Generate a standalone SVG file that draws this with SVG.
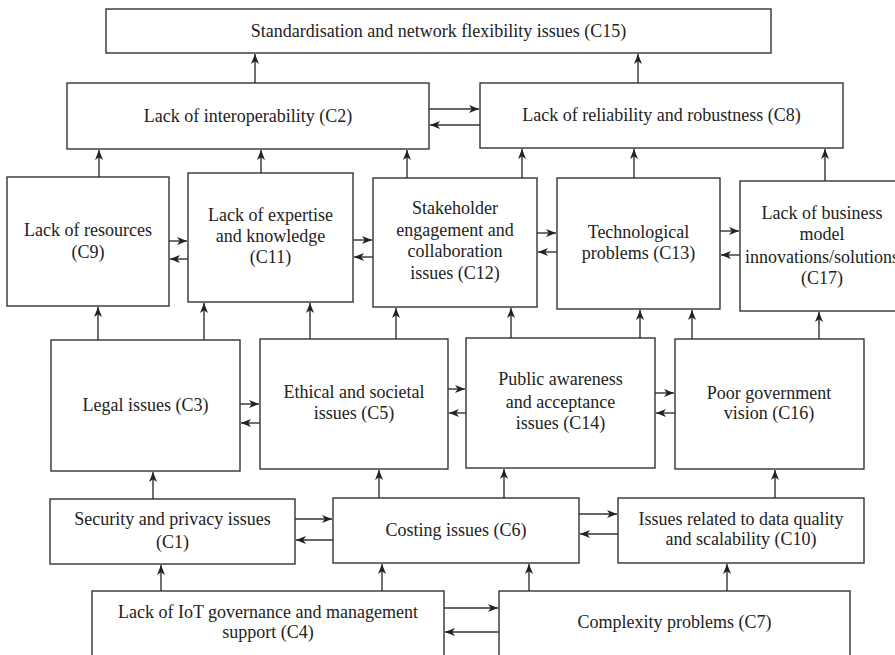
<svg xmlns="http://www.w3.org/2000/svg" width="895" height="655" viewBox="0 0 895 655">
<style>
.box{fill:#fff;stroke:#333;stroke-width:1.4}
.t{font-family:"Liberation Serif","Times New Roman",serif;font-size:18px;fill:#222;text-anchor:middle}
.c line{stroke:#333;stroke-width:1.4;marker-end:url(#ah)}
</style>
<defs>
<marker id="ah" markerUnits="userSpaceOnUse" markerWidth="11" markerHeight="9" refX="10" refY="4" orient="auto">
<path d="M0,0 L10,4 L0,8 L2.8,4 z" fill="#222"/>
</marker>
</defs>
<rect width="895" height="655" fill="#fff"/>
<g id="C15"><rect class="box" x="106" y="9" width="665" height="44"/><text class="t" x="438.5" y="37">Standardisation and network flexibility issues (C15)</text></g>
<g id="C2"><rect class="box" x="67" y="83" width="362" height="66"/><text class="t" x="248" y="122">Lack of interoperability (C2)</text></g>
<g id="C8"><rect class="box" x="480" y="83" width="363" height="65"/><text class="t" x="661.5" y="121">Lack of reliability and robustness (C8)</text></g>
<g id="C9"><rect class="box" x="7" y="177" width="162" height="129"/><text class="t" x="88" y="236">Lack of resources</text><text class="t" x="88" y="258">(C9)</text></g>
<g id="C11"><rect class="box" x="188" y="173" width="165" height="129"/><text class="t" x="270.5" y="221">Lack of expertise</text><text class="t" x="270.5" y="242">and knowledge</text><text class="t" x="270.5" y="263">(C11)</text></g>
<g id="C12"><rect class="box" x="373" y="178" width="164" height="129"/><text class="t" x="455" y="214">Stakeholder</text><text class="t" x="455" y="236">engagement and</text><text class="t" x="455" y="257">collaboration</text><text class="t" x="455" y="279">issues (C12)</text></g>
<g id="C13"><rect class="box" x="557" y="178" width="163" height="131"/><text class="t" x="638.5" y="238">Technological</text><text class="t" x="638.5" y="259">problems (C13)</text></g>
<g id="C17"><rect class="box" x="740" y="181" width="164" height="130"/><text class="t" x="822" y="219">Lack of business</text><text class="t" x="822" y="240">model</text><text class="t" x="822" y="263">innovations/solutions</text><text class="t" x="822" y="284">(C17)</text></g>
<g id="C3"><rect class="box" x="51" y="340" width="189" height="131"/><text class="t" x="145.5" y="411">Legal issues (C3)</text></g>
<g id="C5"><rect class="box" x="260" y="339" width="188" height="130"/><text class="t" x="354" y="398">Ethical and societal</text><text class="t" x="354" y="419">issues (C5)</text></g>
<g id="C14"><rect class="box" x="466" y="338" width="189" height="130"/><text class="t" x="560.5" y="385">Public awareness</text><text class="t" x="560.5" y="408">and acceptance</text><text class="t" x="560.5" y="429">issues (C14)</text></g>
<g id="C16"><rect class="box" x="675" y="339" width="189" height="130"/><text class="t" x="769" y="399">Poor government</text><text class="t" x="769" y="419">vision (C16)</text></g>
<g id="C1"><rect class="box" x="50" y="499" width="245" height="65"/><text class="t" x="172.5" y="525">Security and privacy issues</text><text class="t" x="172.5" y="548">(C1)</text></g>
<g id="C6"><rect class="box" x="333" y="498" width="246" height="65"/><text class="t" x="456" y="536">Costing issues (C6)</text></g>
<g id="C10"><rect class="box" x="618" y="498" width="246" height="65"/><text class="t" x="741" y="525">Issues related to data quality</text><text class="t" x="741" y="545">and scalability (C10)</text></g>
<g id="C4"><rect class="box" x="92" y="591" width="352" height="80"/><text class="t" x="268" y="618">Lack of IoT governance and management</text><text class="t" x="268" y="638">support (C4)</text></g>
<g id="C7"><rect class="box" x="499" y="591" width="351" height="80"/><text class="t" x="674.5" y="628">Complexity problems (C7)</text></g>
<g id="connectors" class="c">
<line x1="255" y1="83" x2="255" y2="54"/>
<line x1="638" y1="83" x2="638" y2="54"/>
<line x1="99" y1="177" x2="99" y2="150"/>
<line x1="261" y1="173" x2="261" y2="150"/>
<line x1="407" y1="178" x2="407" y2="150"/>
<line x1="522" y1="178" x2="522" y2="149"/>
<line x1="634" y1="178" x2="634" y2="149"/>
<line x1="825" y1="181" x2="825" y2="149"/>
<line x1="98" y1="340" x2="98" y2="307"/>
<line x1="204" y1="340" x2="204" y2="303"/>
<line x1="310" y1="339" x2="310" y2="303"/>
<line x1="396" y1="339" x2="396" y2="308"/>
<line x1="511" y1="338" x2="511" y2="308"/>
<line x1="640" y1="338" x2="640" y2="310"/>
<line x1="692" y1="339" x2="692" y2="310"/>
<line x1="819" y1="339" x2="819" y2="312"/>
<line x1="153" y1="499" x2="153" y2="472"/>
<line x1="379" y1="498" x2="379" y2="470"/>
<line x1="504" y1="498" x2="504" y2="469"/>
<line x1="775" y1="498" x2="775" y2="470"/>
<line x1="161" y1="591" x2="161" y2="565"/>
<line x1="382" y1="591" x2="382" y2="564"/>
<line x1="529" y1="591" x2="529" y2="564"/>
<line x1="727" y1="591" x2="727" y2="564"/>
<line x1="429" y1="109" x2="479" y2="109"/>
<line x1="480" y1="125" x2="430" y2="125"/>
<line x1="169" y1="241" x2="187" y2="241"/>
<line x1="188" y1="259" x2="170" y2="259"/>
<line x1="353" y1="240" x2="372" y2="240"/>
<line x1="373" y1="257" x2="354" y2="257"/>
<line x1="537" y1="233" x2="556" y2="233"/>
<line x1="557" y1="252" x2="538" y2="252"/>
<line x1="720" y1="231" x2="739" y2="231"/>
<line x1="740" y1="255" x2="721" y2="255"/>
<line x1="240" y1="404" x2="259" y2="404"/>
<line x1="260" y1="423" x2="241" y2="423"/>
<line x1="448" y1="389" x2="465" y2="389"/>
<line x1="466" y1="413" x2="449" y2="413"/>
<line x1="655" y1="393" x2="674" y2="393"/>
<line x1="675" y1="413" x2="656" y2="413"/>
<line x1="295" y1="519" x2="332" y2="519"/>
<line x1="333" y1="540" x2="296" y2="540"/>
<line x1="579" y1="514" x2="617" y2="514"/>
<line x1="618" y1="534" x2="580" y2="534"/>
<line x1="444" y1="608" x2="498" y2="608"/>
<line x1="499" y1="632" x2="445" y2="632"/>
</g>
</svg>
